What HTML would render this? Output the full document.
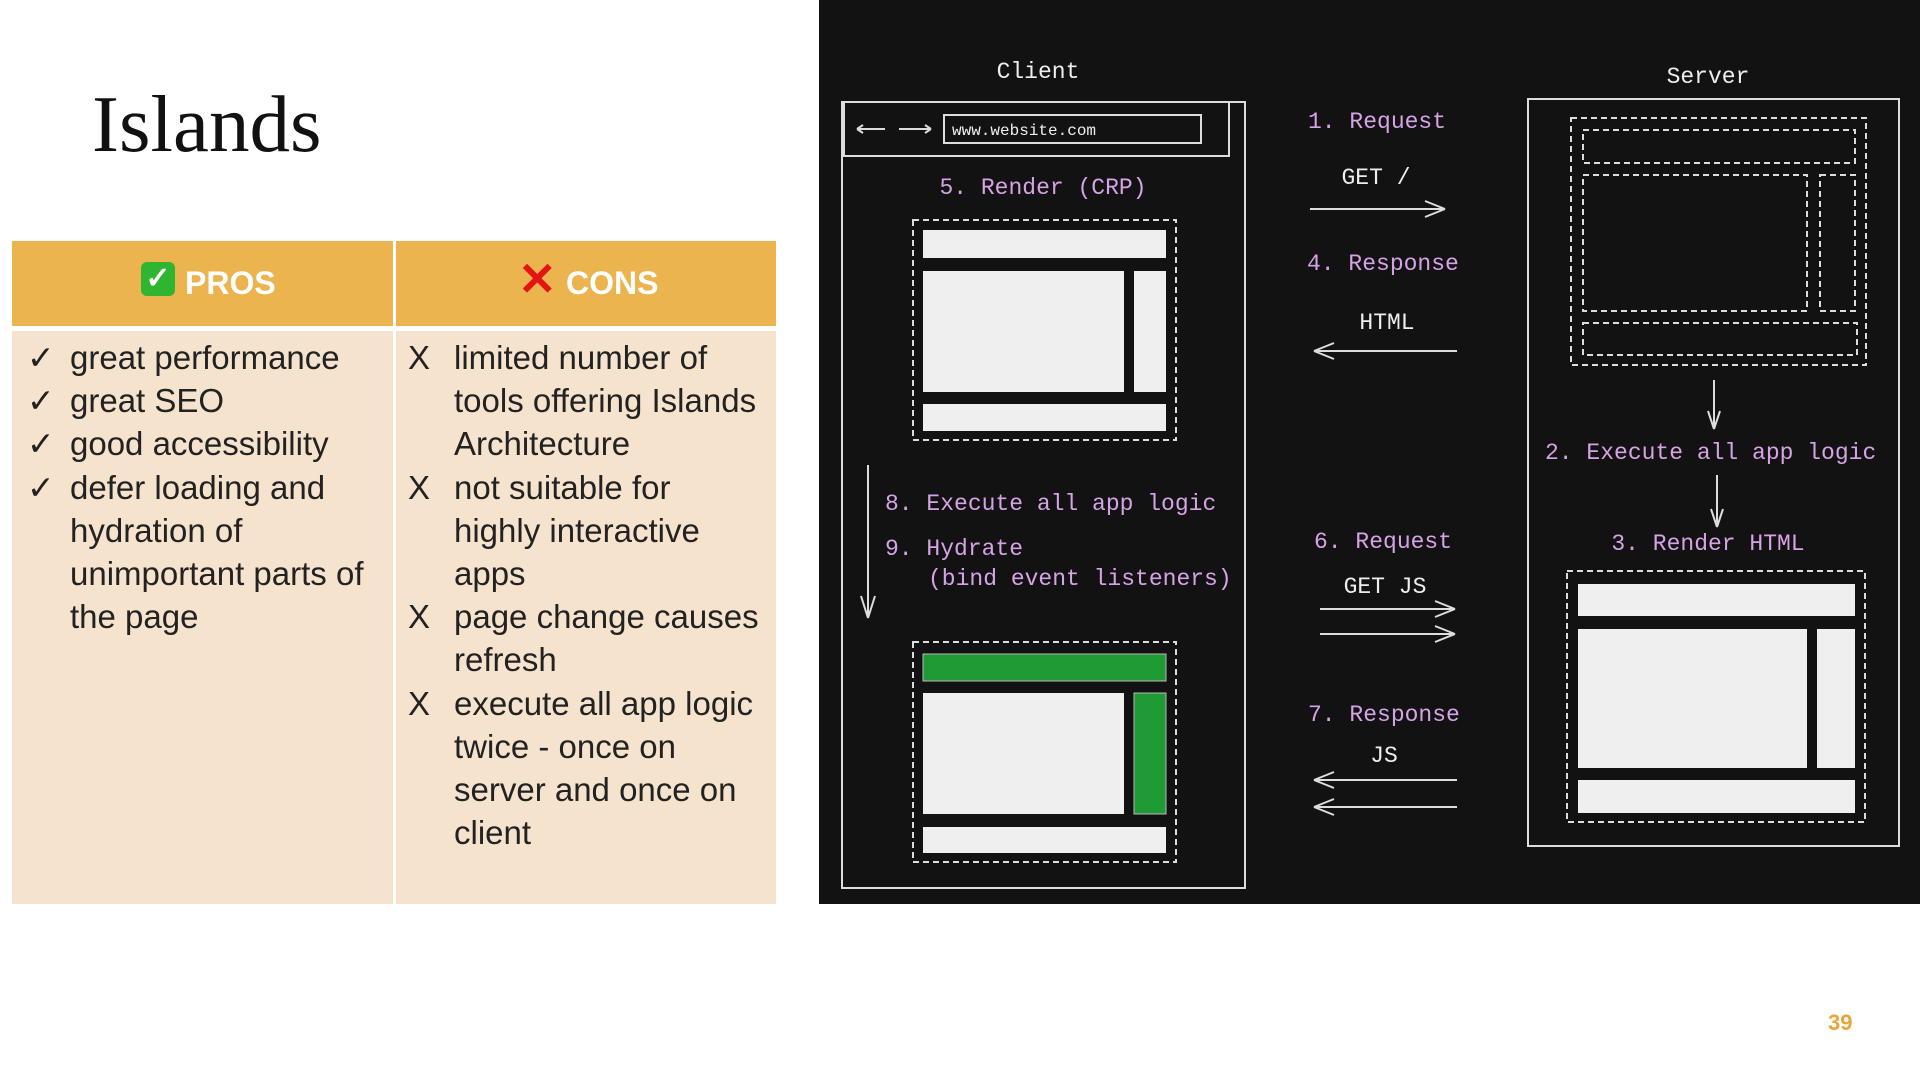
<!DOCTYPE html>
<html><head><meta charset="utf-8"><style>
body{margin:0;width:1920px;height:1080px;background:#fff;position:relative;overflow:hidden;font-family:"Liberation Sans",sans-serif}
.t{position:absolute;white-space:nowrap}
.b{position:absolute;font-size:33px;color:#222;line-height:43.2px}
</style></head><body>
<div class="t" style="left:92px;top:78px;font-family:'Liberation Serif',serif;font-size:81px;color:#111">Islands</div>
<div style="position:absolute;left:12px;top:241px;width:764px;height:663px;background:#f6e3cd"></div>
<div style="position:absolute;left:12px;top:241px;width:764px;height:85px;background:#ebb44e"></div>
<div style="position:absolute;left:12px;top:326px;width:764px;height:5px;background:#fff"></div>
<div style="position:absolute;left:393px;top:241px;width:3px;height:663px;background:#fff"></div>
<div style="position:absolute;left:141px;top:262px;width:34px;height:34px;background:#2fb52f;border-radius:6px;color:#fff;font-size:30px;line-height:34px;text-align:center;font-weight:bold">✓</div>
<div class="t" style="left:185px;top:265px;font-size:32px;font-weight:bold;color:#fff">PROS</div>
<div class="t" style="left:518px;top:252px;font-size:46px;font-weight:bold;color:#e41414">✕</div>
<div class="t" style="left:566px;top:265px;font-size:32px;font-weight:bold;color:#fff">CONS</div>
<div class="b" style="left:27px;top:336px">✓<br>✓<br>✓<br>✓</div>
<div class="b" style="left:70px;top:336px">great performance<br>great SEO<br>good accessibility<br>defer loading and<br>hydration of<br>unimportant parts of<br>the page</div>
<div class="b" style="left:408px;top:336px">X<br><br><br>X<br><br><br>X<br><br>X</div>
<div class="b" style="left:454px;top:336px">limited number of<br>tools offering Islands<br>Architecture<br>not suitable for<br>highly interactive<br>apps<br>page change causes<br>refresh<br>execute all app logic<br>twice - once on<br>server and once on<br>client</div>
<div class="t" style="left:1828px;top:1010px;font-size:22px;font-weight:bold;color:#e8a63a">39</div>
<svg style="position:absolute;left:0;top:0" width="1920" height="1080">
<rect x="819" y="0" width="1101" height="904" fill="#121212"/>
<g fill="none" stroke="#ddd" stroke-width="2">
<rect x="842" y="102" width="403" height="786"/>
<rect x="844" y="102" width="385" height="54"/>
<rect x="944" y="115" width="257" height="28"/>
<path d="M857 129h28M857 129l6-4M857 129l6 4M899 129h32M931 129l-6-4M931 129l-6 4"/>
<g stroke-dasharray="6 4"><rect x="913" y="220" width="263" height="220"/><rect x="913" y="642" width="263" height="220"/>
<rect x="1571" y="118" width="295" height="247"/><rect x="1583" y="130" width="272" height="33"/><rect x="1583" y="175" width="224" height="136"/><rect x="1820" y="175" width="35" height="136"/><rect x="1583" y="323" width="274" height="32"/>
<rect x="1567" y="571" width="298" height="251"/></g>
<rect x="1528" y="99" width="371" height="747"/>
<path d="M868 465v153M868 618l-7-22M868 618l7-22"/>
<path d="M1714 380v49M1714 429l-6-18M1714 429l6-18M1717 475v52M1717 527l-6-18M1717 527l6-18"/>
<path d="M1310 209h135M1445 209l-20-8M1445 209l-20 8"/>
<path d="M1314 351h143M1314 351l20-8M1314 351l20 8"/>
<path d="M1320 609h135M1455 609l-20-8M1455 609l-20 8M1320 634h135M1455 634l-20-8M1455 634l-20 8"/>
<path d="M1314 780h143M1314 780l20-8M1314 780l20 8M1314 807h143M1314 807l20-8M1314 807l20 8"/>
</g>
<g fill="#efefef">
<rect x="923" y="230" width="243" height="28"/><rect x="923" y="271" width="201" height="121"/><rect x="1134" y="271" width="32" height="121"/><rect x="923" y="404" width="243" height="27"/>
<rect x="923" y="693" width="201" height="121"/><rect x="923" y="827" width="243" height="26"/>
<rect x="1578" y="584" width="277" height="32"/><rect x="1578" y="629" width="229" height="139"/><rect x="1817" y="629" width="38" height="139"/><rect x="1578" y="780" width="277" height="33"/>
</g>
<g fill="#1f9a35" stroke="#bbb" stroke-width="1"><rect x="923" y="654" width="243" height="27"/><rect x="1134" y="693" width="32" height="121"/></g>
<g font-family="Liberation Mono, monospace" font-size="23" fill="#eee">
<text x="1038" y="78" text-anchor="middle">Client</text>
<text x="1708" y="83" text-anchor="middle">Server</text>
<text x="952" y="135" font-size="16">www.website.com</text>
<text x="1376" y="184" text-anchor="middle">GET /</text>
<text x="1387" y="329" text-anchor="middle">HTML</text>
<text x="1385" y="593" text-anchor="middle">GET JS</text>
<text x="1384" y="762" text-anchor="middle">JS</text>
</g>
<g font-family="Liberation Mono, monospace" font-size="23" fill="#d6a3e6">
<text x="1043" y="194" text-anchor="middle">5. Render (CRP)</text>
<text x="885" y="510">8. Execute all app logic</text>
<text x="885" y="555">9. Hydrate</text>
<text x="928" y="585">(bind event listeners)</text>
<text x="1308" y="128">1. Request</text>
<text x="1307" y="270">4. Response</text>
<text x="1314" y="548">6. Request</text>
<text x="1308" y="721">7. Response</text>
<text x="1545" y="459">2. Execute all app logic</text>
<text x="1708" y="550" text-anchor="middle">3. Render HTML</text>
</g>
</svg>
</body></html>
